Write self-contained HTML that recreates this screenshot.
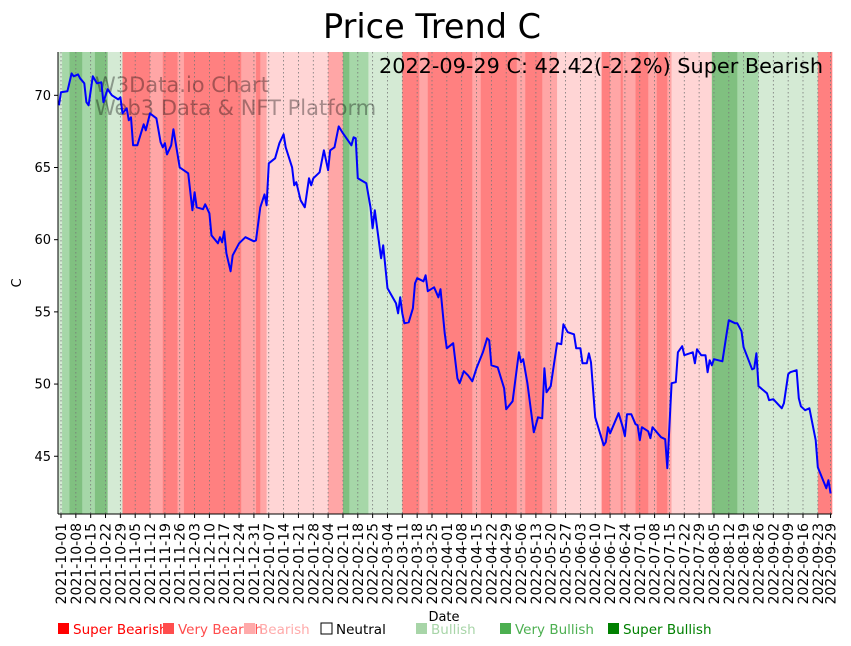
<!DOCTYPE html>
<html><head><meta charset="utf-8">
<style>
html,body{margin:0;padding:0;background:#fff;}
svg{display:block;font-family:"DejaVu Sans","Liberation Sans",sans-serif;}
</style></head>
<body>
<svg id="chart" width="851" height="646" viewBox="0 0 851 646" xmlns="http://www.w3.org/2000/svg">
<text x="432" y="38" font-size="33.5" text-anchor="middle" fill="#000">Price Trend C</text>
<g id="bands"></g>
<g id="grid"></g>
<g id="watermark" fill="#000" fill-opacity="0.35" font-size="21">
<text x="95" y="92">W3Data.io Chart</text>
<text x="95" y="115">Web3 Data &amp; NFT Platform</text>
</g>
<path id="line" fill="none" stroke="#0000ff" stroke-width="2" stroke-linejoin="round"/>
<text x="823" y="73" font-size="20.8" text-anchor="end" fill="#000">2022-09-29 C: 42.42(-2.2%) Super Bearish</text>
<g id="axes"></g>
<text x="21" y="283" font-size="13" text-anchor="middle" transform="rotate(-90 21 283)">C</text>
<text x="444" y="621" font-size="13" text-anchor="middle">Date</text>
<g id="legend" font-size="13.5"></g>
</svg>
<script>
const days=[-1,0,3,5,6,8,9,11,12,13,15,17,19,20,22,24,27,28,29,31,32,33,34,36,39,40,42,45,47,48,49,50,52,53,56,60,62,63,64,67,68,70,71,74,75,76,77,78,80,81,84,87,91,92,94,96,97,98,101,103,105,106,109,110,111,113,115,117,118,119,122,124,126,127,129,131,133,137,138,139,140,144,146,147,148,151,152,154,158,159,160,161,162,164,166,167,168,171,172,173,176,178,179,181,182,185,187,188,190,192,194,196,199,201,202,203,206,209,210,213,216,217,218,220,223,225,227,228,229,231,234,236,237,239,242,243,245,246,248,249,250,252,256,257,258,259,263,265,266,267,269,271,272,273,274,277,278,279,283,285,286,288,290,291,293,294,298,299,300,302,304,305,306,307,308,312,314,315,318,319,321,322,326,327,328,329,333,334,336,340,341,343,344,347,348,349,351,353,356,357,361,362,363];
const prices=[69.31,70.21,70.28,71.52,71.32,71.45,71.18,70.83,69.52,69.31,71.32,70.83,70.9,69.52,70.42,70.0,69.72,69.86,68.75,69.1,68.27,68.48,66.54,66.54,67.99,67.58,68.75,68.41,66.75,66.4,66.68,65.91,66.54,67.65,65.01,64.6,62.04,63.28,62.24,62.11,62.45,61.83,60.3,59.75,60.17,59.82,60.58,59.06,57.81,58.92,59.75,60.17,59.89,59.96,62.24,63.14,62.38,65.29,65.64,66.68,67.3,66.4,65.01,63.77,63.98,62.73,62.24,64.25,63.77,64.25,64.67,66.19,64.81,66.19,66.4,67.85,67.37,66.54,67.09,67.02,64.25,63.91,62.24,60.79,62.04,58.71,59.61,56.63,55.6,54.9,56.01,54.9,54.21,54.28,55.25,56.98,57.33,57.12,57.53,56.43,56.7,56.01,56.57,53.52,52.48,52.83,50.4,50.06,50.89,50.61,50.19,51.09,52.2,53.17,53.03,51.3,51.16,49.71,48.25,48.81,52.2,51.51,51.72,50.06,46.66,47.7,47.63,51.09,49.43,49.85,52.83,52.76,54.14,53.59,53.45,52.48,52.48,51.44,51.44,52.13,51.51,47.7,45.76,45.97,47.01,46.59,47.98,47.01,46.39,47.91,47.91,47.22,47.15,46.11,47.01,46.73,46.25,47.01,46.32,46.18,44.17,50.06,50.13,52.2,52.62,52.0,52.2,51.44,52.41,52.0,52.0,50.82,51.65,51.3,51.72,51.58,53.52,54.42,54.21,54.21,53.66,52.55,51.02,51.09,52.13,49.85,49.36,48.88,48.95,48.32,48.67,50.68,50.82,50.96,49.02,48.46,48.19,48.32,46.11,44.24,42.78,43.34,42.42];
const bandStarts=[-1.5,0.5,4,10,16,22,29,42,48,55,58,85,92,94,97,126,133,136,145,161,169,173,194,198,215,219,227,234,255,259,264,265,271,277,281,286,288,307,319,329,357];
const bandCats=[4,5,6,5,6,4,0,1,0,1,0,1,0,1,2,1,6,5,4,0,1,0,1,0,1,0,1,2,0,1,0,1,0,1,0,1,2,6,5,4,0];
const bandEnd=363.8;
const yTicks=[45,50,55,60,65,70];
const legendLabels=["Super Bearish","Very Bearish","Bearish","Neutral","Bullish","Very Bullish","Super Bullish"];
const legendColors=["#ff0000","#ff4d4d","#ffaaaa","#ffffff","#a8d5a8","#4caf50","#008000"];
const bandColors=["#ff8080","#ffa6a6","#ffd5d5","#ffffff","#d4ead4","#a6d7a8","#80c080"];
const legendX=[57,162,243,320,415,499,607];

const X0=58,X1=832,Y0=52,Y1=514;
const startDate=new Date(Date.UTC(2021,9,1));
function xs(d){return 61+d*2.12;}
function ys(v){return Y1-(v-41)/(73-41)*(Y1-Y0);}
const NS="http://www.w3.org/2000/svg";
function mk(tag,attrs,parent){const e=document.createElementNS(NS,tag);for(const k in attrs)e.setAttribute(k,attrs[k]);parent.appendChild(e);return e;}

const bg=document.getElementById('bands');
for(let i=0;i<bandStarts.length;i++){
  const a=Math.max(X0,xs(bandStarts[i])),b=Math.min(X1,xs(i+1<bandStarts.length?bandStarts[i+1]:bandEnd));
  const r=mk('rect',{x:a,y:Y0,width:Math.max(0,b-a+0.3),height:Y1-Y0,fill:bandColors[bandCats[i]]},bg);
  
  
}
const grid=document.getElementById('grid'),axes=document.getElementById('axes');
const tickDays=[];for(let d=0;d<=363;d+=7)tickDays.push(d);tickDays.push(363);
tickDays.forEach(d=>{
  const x=xs(d);
  const gl=mk('line',{x1:x,x2:x,y1:Y0,y2:Y1,stroke:'#777','stroke-width':0.8,'stroke-dasharray':'1.5,2.5'},grid);
  
  
  const tk=mk('line',{x1:x,x2:x,y1:Y1,y2:Y1+4,stroke:'#000','stroke-width':1},axes);
  
  
  const dt=new Date(startDate.getTime()+d*86400000);
  const lab=dt.toISOString().slice(0,10);
  const t=mk('text',{x:x+5,y:Y1+9,'font-size':14,'text-anchor':'end',transform:`rotate(-90 ${x+5} ${Y1+9})`},axes);
  t.textContent=lab;
  
  
});
yTicks.forEach(v=>{
  const y=ys(v);
  const tk=mk('line',{x1:X0-4,x2:X0,y1:y,y2:y,stroke:'#000','stroke-width':1},axes);
  
  
  const t=mk('text',{x:X0-7,y:y+4.5,'font-size':13,'text-anchor':'end'},axes);
  t.textContent=v;
  
  
});
const sp1=mk('line',{x1:X0,x2:X0,y1:Y0,y2:Y1,stroke:'#000','stroke-width':1},axes);


const sp2=mk('line',{x1:X0,x2:X1,y1:Y1,y2:Y1,stroke:'#000','stroke-width':1},axes);



document.getElementById('line').setAttribute('d',days.map((d,i)=>(i?'L':'M')+xs(d).toFixed(1)+','+ys(prices[i]).toFixed(1)).join(''));

const lg=document.getElementById('legend');
legendLabels.forEach((l,i)=>{
  const x=legendX[i];
  const sq=mk('rect',{x:x+1,y:623,width:11,height:11,fill:legendColors[i],stroke:i===3?'#000':'none','stroke-width':1},lg);
  
  
  const t=mk('text',{x:x+16,y:634,fill:i===3?'#000':legendColors[i]},lg);
  t.textContent=l;
  
  
});
</script>
</body></html>
